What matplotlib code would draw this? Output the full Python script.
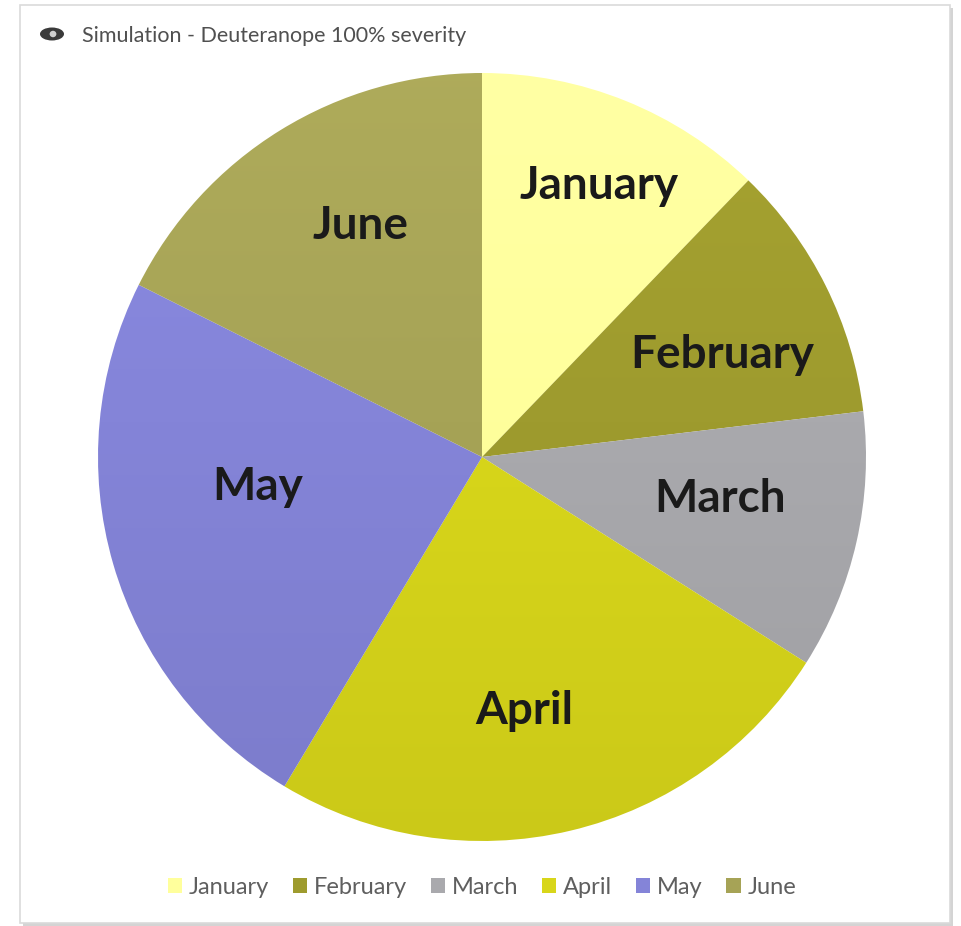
import numpy as np
import matplotlib
matplotlib.use("Agg")
import matplotlib.pyplot as plt
from matplotlib.patches import Rectangle, Ellipse, Circle
from matplotlib.colors import to_rgb

# Monthly shares
months = ["January", "February", "March", "April", "May", "June"]
values = [12.2, 10.9, 10.9, 24.6, 23.8, 17.6]
colors = ["#FFFF9C", "#9E9B2E", "#A9A9AD", "#D8D61A", "#8484D8", "#A6A356"]

title_text = "Simulation - Deuteranope 100% severity"

# label placement (fraction of radius, clockwise angular nudge in degrees)
label_dist = [0.77, 0.68, 0.63, 0.67, 0.59, 0.68]
label_nudge = [1.4, 3.5, -2.9, 3.8, 8.7, 4.0]

W, H = 962, 926
fig = plt.figure(figsize=(W / 100, H / 100), dpi=100)
fig.patch.set_facecolor("white")

# outer frame with a soft right/bottom shadow
fig.patches.append(Rectangle((23 / W, 1 - 926 / H), 930 / W, (926 - 8) / H,
                             transform=fig.transFigure, facecolor="#D4D4D4",
                             edgecolor="none", zorder=-3))
fig.patches.append(Rectangle((20 / W, 1 - 923 / H), 930 / W, (923 - 5) / H,
                             transform=fig.transFigure, facecolor="white",
                             edgecolor="#DADADA", linewidth=1.2, zorder=-2))

# pie axes: centre (482, 457) px, radius 384 px
cx, cy, r = 482, 457, 384
ax = fig.add_axes([(cx - r) / W, 1 - (cy + r) / H, 2 * r / W, 2 * r / H])
ax.set_zorder(1)
ax.patch.set_alpha(0)
wedges, _ = ax.pie(values, colors=colors, startangle=90, counterclock=False,
                   radius=1.0, wedgeprops=dict(linewidth=0))

# vertical gradient fill inside each slice (lighter on top, darker below)
ny = 300
t = np.linspace(0, 1, ny)[:, None]  # 0 at top, 1 at bottom
for w, c in zip(wedges, colors):
    base = np.array(to_rgb(c))
    shade = 1.05 - 0.11 * t
    img = np.clip(base[None, None, :] * shade[:, :, None], 0, 1)
    img = np.repeat(img, 2, axis=1)
    im = ax.imshow(img, extent=(-1, 1, -1, 1), origin="upper",
                   interpolation="bilinear", zorder=w.get_zorder() + 0.1)
    im.set_clip_path(w)
    w.set_facecolor("none")
ax.set_xlim(-1.0, 1.0)
ax.set_ylim(-1.0, 1.0)
ax.set_aspect("auto")
ax.axis("off")

# slice labels
for w, name, d, nudge in zip(wedges, months, label_dist, label_nudge):
    mid_cw = 90 - (w.theta1 + w.theta2) / 2 + nudge  # clockwise from 12 o'clock
    a = np.deg2rad(mid_cw)
    ax.text(d * np.sin(a), d * np.cos(a), name,
            ha="center", va="center", fontsize=33, fontweight="bold",
            family="Lato", color="#1A1A1A", zorder=10)

# title with an eye glyph
fig.text(82 / W, 1 - 36 / H, title_text, ha="left", va="center",
         fontsize=15.5, family="Lato", color="#505050")
fig.patches.append(Ellipse((52 / W, 1 - 34 / H), 24 / W, 13 / H,
                           transform=fig.transFigure, facecolor="#3A3A3A",
                           edgecolor="none", zorder=2))
fig.patches.append(Circle((53 / W, 1 - 34 / H), 0.0035,
                          transform=fig.transFigure, facecolor="#CFCFCF",
                          edgecolor="none", zorder=3))

# legend
handles = [Rectangle((0, 0), 1, 1, facecolor=c, edgecolor="none") for c in colors]
fig.legend(handles, months, loc="center", bbox_to_anchor=(482 / W, 1 - 887 / H),
           ncol=6, frameon=False, handlelength=0.6, handleheight=0.6,
           handletextpad=0.3, columnspacing=1.0,
           prop=dict(family="Lato", size=17), labelcolor="#5F5F5F")

fig.savefig("out.png", dpi=100, facecolor="white")
